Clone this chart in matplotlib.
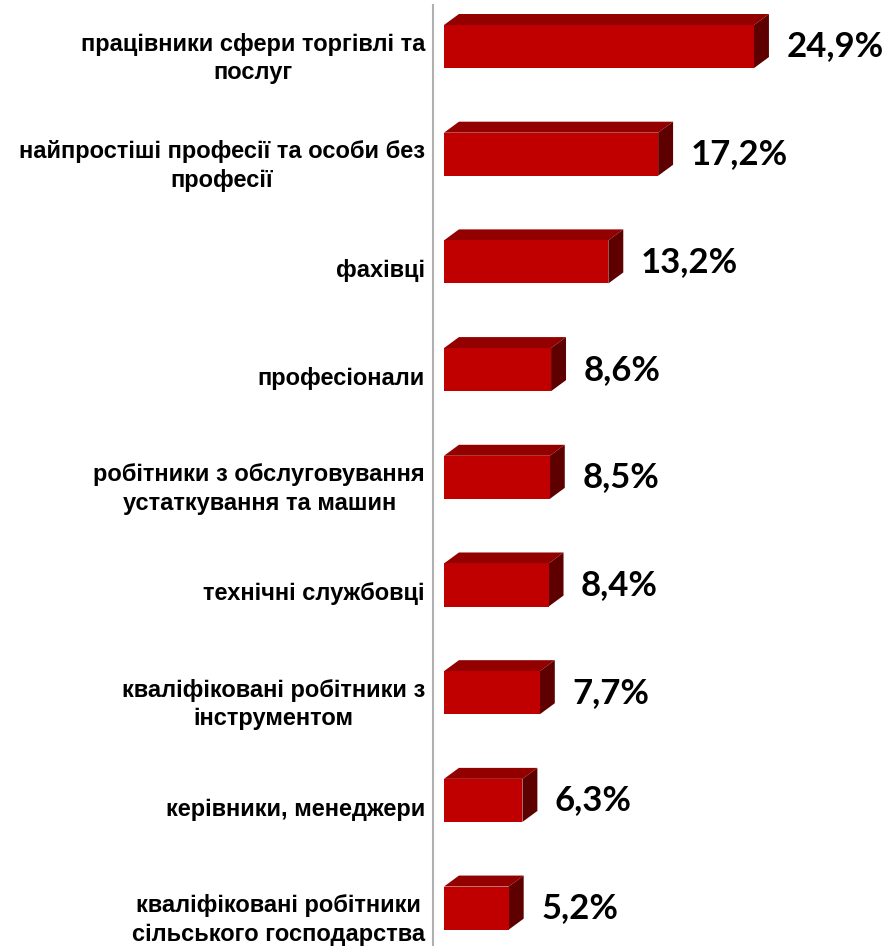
import matplotlib.pyplot as plt
from matplotlib.patches import Polygon
from matplotlib.lines import Line2D

categories = [
    "працівники сфери торгівлі та\nпослуг",
    "найпростіші професії та особи без\nпрофесії",
    "фахівці",
    "професіонали",
    "робітники з обслуговування\nустаткування та машин",
    "технічні службовці",
    "кваліфіковані робітники з\nінструментом",
    "керівники, менеджери",
    "кваліфіковані робітники\nсільського господарства",
]
values = [24.9, 17.2, 13.2, 8.6, 8.5, 8.4, 7.7, 6.3, 5.2]
value_labels = ["24,9%", "17,2%", "13,2%", "8,6%", "8,5%", "8,4%", "7,7%", "6,3%", "5,2%"]

front = "#C00000"
top = "#930000"
side = "#5E0000"

W, H = 889, 946
fig = plt.figure(figsize=(W / 100, H / 100), dpi=100)
ax = fig.add_axes([444 / W, 0, 1 - 444 / W, 1])
ax.set_xlim(0, (W - 444) / 12.45)
ax.set_ylim(8.352, -0.432)
ax.axis("off")

bh = 0.4          # bar thickness in data units
dx = 1.2          # depth offset (x, data units)
dy = 0.102        # depth offset (y, data units)

y = list(range(len(values)))
ax.barh(y, values, height=bh, color=front, zorder=3)

for i, v in enumerate(values):
    yt = i - bh / 2
    yb = i + bh / 2
    ax.add_patch(Polygon([(0, yt), (v, yt), (v + dx, yt - dy), (dx, yt - dy)],
                         closed=True, facecolor=top, edgecolor="none", zorder=2))
    ax.add_patch(Polygon([(v, yt), (v + dx, yt - dy), (v + dx, yb - dy), (v, yb)],
                         closed=True, facecolor=side, edgecolor="none", zorder=2))
    ax.text(v + 2.6, i, value_labels[i], ha="left", va="center",
            fontsize=25, fontweight="bold", family="Lato", color="black")
    off = 0.11 if "\n" in categories[i] else 0.08
    ax.text(-1.53, i + off, categories[i], ha="right", va="center",
            multialignment="center", linespacing=1.3,
            fontsize=17, fontweight="bold", family="Liberation Sans",
            color="black", clip_on=False)

fig.add_artist(Line2D([433 / W, 433 / W], [0, 1 - 5 / H], color="#B0B0B0",
                      linewidth=1.5, transform=fig.transFigure))

fig.savefig("out.png", dpi=100)
